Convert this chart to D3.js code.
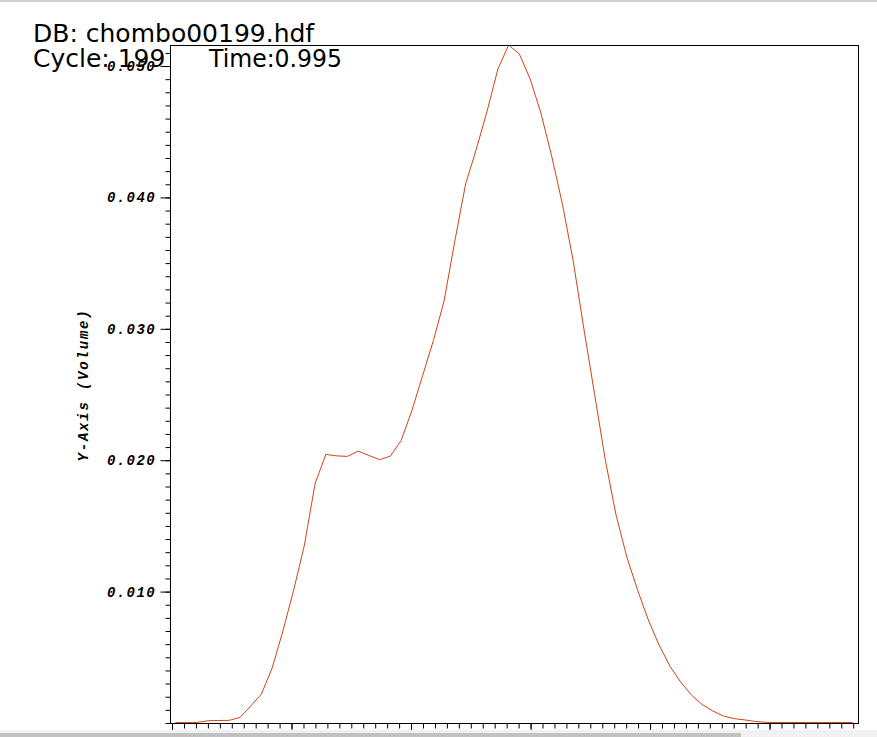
<!DOCTYPE html>
<html>
<head>
<meta charset="utf-8">
<script src="https://cdn.jsdelivr.net/npm/d3@7"></script>
<style>
  body { margin: 0; background: #fff; overflow: hidden; }
  svg { display: block; }
</style>
</head>
<body>
<div id="chart"></div>
<script>
// curve data: one value per cell (cell index -> volume)
const cells = [0, 1, 2, 3, 4, 5, 6, 7, 8, 9, 10, 11, 12, 13, 14, 15, 16, 17, 18, 19,
  20, 21, 22, 23, 24, 25, 26, 27, 28, 29, 30, 31, 32, 33, 34, 35, 36, 37, 38, 39,
  40, 41, 42, 43, 44, 45, 46, 47, 48, 49, 50, 51, 52, 53, 54, 55, 56, 57, 58, 59,
  60, 61, 62, 63];
const volume = [0.00003, 0.00003, 0.00004, 0.00017, 0.00019, 0.00020, 0.00042, 0.00129,
  0.00220, 0.00418, 0.00699, 0.01011, 0.01353, 0.01824, 0.02044, 0.02033, 0.02029,
  0.02069, 0.02036, 0.02004, 0.02031, 0.02150, 0.02378, 0.02644, 0.02910, 0.03214,
  0.03670, 0.04103, 0.04369, 0.04658, 0.04977, 0.05160, 0.05091, 0.04901, 0.04643,
  0.04316, 0.03950, 0.03520, 0.03000, 0.02500, 0.01998, 0.01581, 0.01261, 0.01011,
  0.00783, 0.00593, 0.00433, 0.00312, 0.00213, 0.00141, 0.00091, 0.00053, 0.00033,
  0.00023, 0.00011, 0.00005, 0.00004, 0.00004, 0.00004, 0.00004, 0.00004, 0.00004,
  0.00004, 0.00004];

const yTickValues = [0.01, 0.02, 0.03, 0.04, 0.05];
const yTickLabels = ["0.010", "0.020", "0.030", "0.040", "0.050"];

const dbLabel = "DB: chombo00199.hdf";
const cycleLabel = "Cycle: 199";
const timeLabel = "Time:0.995";
const yAxisTitle = "Y-Axis (Volume)";

const width = 877, height = 737;
const plot = { left: 170, right: 858, top: 45, bottom: 723 };
const lineColor = "#cf4519";

const svg = d3.select("#chart")
  .append("svg")
  .attr("width", width)
  .attr("height", height);

// scales
const x = d3.scaleLinear()
  .domain([-0.5, cells.length - 0.5])
  .range([plot.left, plot.right]);
const xTick = d3.scaleLinear()        // axis units, ticks have no labels
  .domain([-0.17, 57.4])
  .range([plot.left, plot.right]);
const y = d3.scaleLinear()
  .domain([0, d3.max(volume)])
  .range([plot.bottom, plot.top]);

// titles
svg.append("text")
  .attr("x", 33).attr("y", 42)
  .style("font-family", "DejaVu Sans")
  .style("font-size", "25px")
  .text(dbLabel);

// y axis: minor then major ticks
const minorY = d3.range(0, 0.0516, 0.001);
svg.append("g")
  .attr("class", "y-minor")
  .attr("transform", `translate(${plot.left + 0.5},0)`)
  .call(d3.axisLeft(y).tickValues(minorY).tickSize(5).tickFormat(""))
  .call(g => g.select(".domain").remove());

svg.append("g")
  .attr("class", "y-major")
  .attr("transform", `translate(${plot.left + 0.5},0)`)
  .call(d3.axisLeft(y).tickValues(yTickValues).tickSize(10).tickPadding(4)
    .tickFormat((d, i) => yTickLabels[i]))
  .call(g => g.select(".domain").remove())
  .call(g => g.selectAll("text")
    .attr("x", -14.5)
    .style("font-family", "Liberation Mono")
    .style("font-weight", "bold")
    .style("font-style", "italic")
    .style("font-size", "14px")
    .style("letter-spacing", "1.4px")
    .style("fill", "#000"));

svg.selectAll(".y-minor line, .y-major line").attr("stroke", "#000");

// x axis: ticks only
const minorX = d3.range(0, 58);
svg.append("g")
  .attr("transform", `translate(0,${plot.bottom + 0.5})`)
  .call(d3.axisBottom(xTick).tickValues(minorX).tickSize(5).tickFormat(""))
  .call(g => g.select(".domain").remove());
svg.append("g")
  .attr("transform", `translate(0,${plot.bottom + 0.5})`)
  .call(d3.axisBottom(xTick).tickValues(minorX.filter(d => d % 10 === 0)).tickSize(8).tickFormat(""))
  .call(g => g.select(".domain").remove());

// y axis title
svg.append("text")
  .attr("transform", "translate(88,385) rotate(-90)")
  .attr("text-anchor", "middle")
  .style("font-family", "Liberation Mono")
  .style("font-weight", "bold")
  .style("font-style", "italic")
  .style("font-size", "14px")
  .style("letter-spacing", "1.8px")
  .text(yAxisTitle);

// the curve
const line = d3.line()
  .x((d, i) => x(cells[i]))
  .y(d => y(d));

svg.append("path")
  .datum(volume)
  .attr("fill", "none")
  .attr("stroke", lineColor)
  .attr("stroke-width", 1)
  .attr("d", line);

// frame
svg.append("rect")
  .attr("x", plot.left + 0.5)
  .attr("y", plot.top + 0.5)
  .attr("width", plot.right - plot.left)
  .attr("height", plot.bottom - plot.top)
  .attr("fill", "none")
  .attr("stroke", "#000")
  .attr("stroke-width", 1);

svg.append("text")
  .attr("x", 33).attr("y", 67)
  .style("font-family", "DejaVu Sans")
  .style("font-size", "25px")
  .text(cycleLabel);

svg.append("text")
  .attr("x", 209).attr("y", 67)
  .attr("textLength", 133)
  .attr("lengthAdjust", "spacingAndGlyphs")
  .style("font-family", "DejaVu Sans")
  .style("font-size", "25px")
  .text(timeLabel);

// window chrome seen in the screenshot
svg.append("rect").attr("x", 0).attr("y", 0).attr("width", width).attr("height", 2).attr("fill", "#d0d0d0");
svg.append("rect").attr("x", 0).attr("y", 730).attr("width", width).attr("height", 7).attr("fill", "#f1f1f1");
svg.append("rect").attr("x", 0).attr("y", 733).attr("width", 741).attr("height", 4).attr("fill", "#c1c1c1");
</script>
</body>
</html>
